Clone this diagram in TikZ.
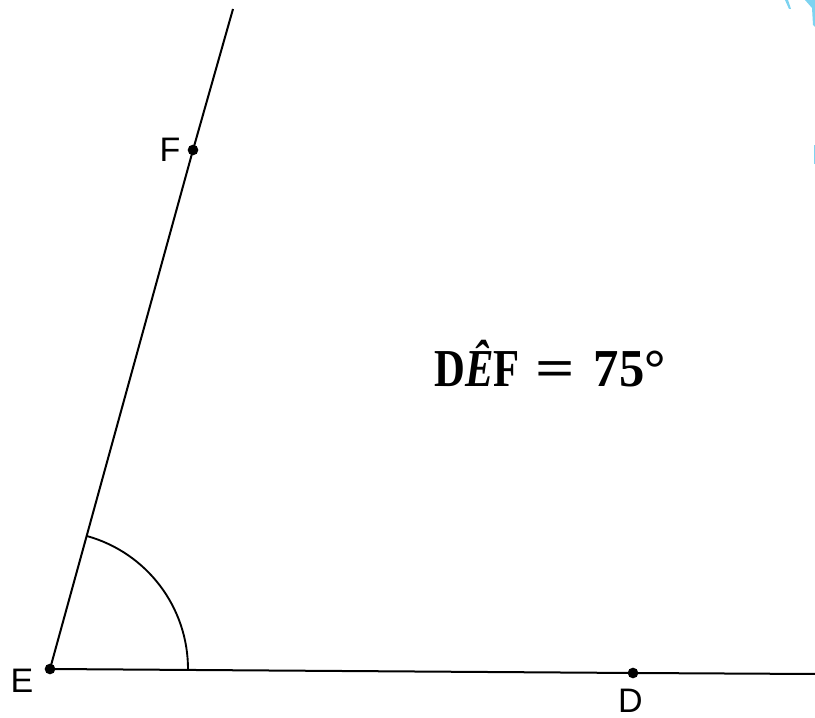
\documentclass[tikz,border=0pt]{standalone}
\usepackage{fontspec}
\usepackage{graphicx}
\setmainfont{Liberation Sans}
\newfontfamily\cambrialike{Liberation Serif}
\definecolor{lightcyan}{RGB}{125,211,240}
\begin{document}
\begin{tikzpicture}[x=0.75pt,y=0.75pt,
  seg/.style={line width=1.5pt,black},
  dotpt/.style={circle,fill=black,inner sep=0pt,minimum size=8pt},
  lbl/.style={inner sep=0pt,font=\fontsize{25.5}{28}\selectfont},
  biglbl/.style={inner sep=0pt,font=\cambrialike\bfseries\fontsize{40}{44}\selectfont},
  artifact/.style={fill=lightcyan,draw=none}]
\useasboundingbox (0,0) rectangle (815,718);
\node[dotpt] (E) at (50,49) {};
\node[dotpt] (D) at (633,45) {};
\node[dotpt] (F) at (193,568) {};
\coordinate (Rend) at (815,44);
\coordinate (Tend) at (233,709);
\draw[seg] (E.center) -- (D.center) -- (Rend);
\draw[seg] (E.center) -- (F.center) -- (Tend);
\draw[line width=1.4pt] ([shift={(-0.4:138)}]E.center) arc[start angle=-0.4,end angle=74.6,radius=138];
\node[lbl] (lE) at (22,37.5) {E};
\node[lbl] (lD) at (630.5,17.5) {D};
\node[lbl] (lF) at (170,568.5) {F};
\node[biglbl,anchor=base west] (dlabel) at (434,331) {\scalebox{0.8}[1]{D\textit{Ê}F}\hspace{12pt}\scalebox{1.3}[1]{=}\hspace{14pt}\scalebox{0.95}[1]{75}°};
\fill[artifact] (785,718) -- (788,718) -- (791,709) -- (789,709) -- cycle;
\fill[artifact] (805,718) -- (815,718) -- (815,691) -- (813,693) -- (812,710) -- cycle;
\fill[artifact] (813.5,554) rectangle (815,573);
\end{tikzpicture}
\end{document}
